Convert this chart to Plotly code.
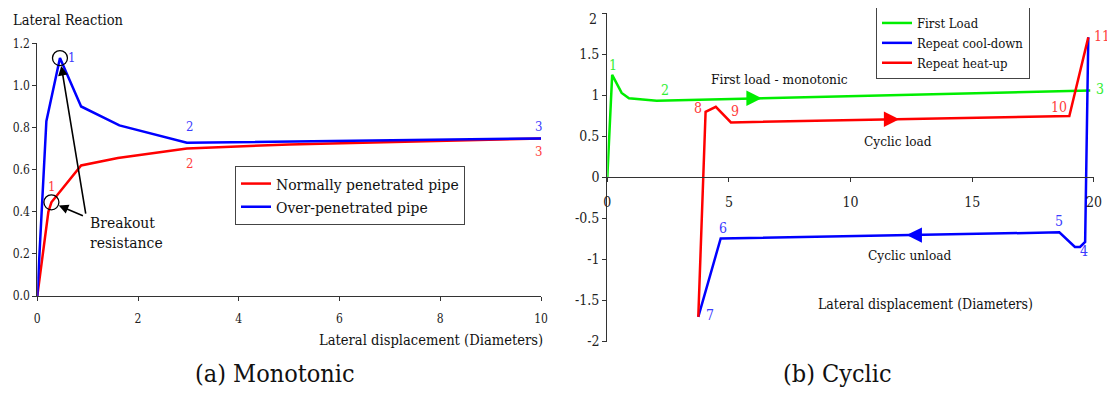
import numpy as np
import plotly.graph_objects as go

# ---------------- data: (a) Monotonic ----------------
mono_red_x = [0, 0.22, 0.28, 0.87, 1.6, 2.97, 5.0, 10]
mono_red_y = [0, 0.40, 0.445, 0.62, 0.655, 0.70, 0.72, 0.748]
mono_blue_x = [0, 0.18, 0.45, 0.87, 1.63, 2.97, 10]
mono_blue_y = [0, 0.83, 1.13, 0.90, 0.81, 0.728, 0.748]
mono_red_labels = {2: "1", 5: "2", 7: "3"}
mono_blue_labels = {2: "1", 5: "2", 6: "3"}
mono_xticks = [0, 2, 4, 6, 8, 10]
mono_yticks = [0.0, 0.2, 0.4, 0.6, 0.8, 1.0, 1.2]

# ---------------- data: (b) Cyclic ----------------
first_x = [0, 0.2, 0.59, 0.89, 2.03, 19.85]
first_y = [0, 1.25, 1.03, 0.965, 0.935, 1.06]
cool_x = [19.77, 19.64, 19.43, 19.22, 18.58, 4.66, 3.74]
cool_y = [1.707, -0.787, -0.848, -0.848, -0.67, -0.744, -1.70]
heat_x = [3.74, 4.04, 4.46, 5.08, 18.99, 19.77]
heat_y = [-1.70, 0.80, 0.86, 0.67, 0.748, 1.707]
first_labels = {1: "1", 4: "2", 5: "3"}
cool_labels = {1: "4", 4: "5", 5: "6", 6: "7"}
heat_labels = {1: "8", 3: "9", 4: "10", 5: "11"}
cyc_xticks = [0, 5, 10, 15, 20]
cyc_yticks = [-2, -1.5, -1, -0.5, 0, 0.5, 1, 1.5, 2]
cyc_yticktext = ["-2", "-1.5", "-1", "-0.5", "0", "0.5", "1", "1.5", "2"]
arrow_first_x = 6.35
arrow_heat_x = 12.0
arrow_cool_x = 12.3

FONT = "DejaVu Serif Condensed, DejaVu Serif, serif"
RED, BLUE, GREEN = "#ff0000", "#0000ff", "#00ee00"
LRED, LBLUE, LGREEN = "#ff3b3b", "#3b3bff", "#33ee33"
AX = "#333333"

# page offset (browser body margin) and figure size
OX, OY = 8, 8
W, H = 1115 - OX, 400 - 2 * OY


def fx(px):
    return (px - OX) / W


def fy(py):
    return 1 - (py - OY) / H


fig = go.Figure()

# (a) traces
fig.add_trace(go.Scatter(x=mono_red_x, y=mono_red_y, mode="lines", name="Normally penetrated pipe",
                         line=dict(color=RED, width=2.5), xaxis="x", yaxis="y", legend="legend"))
fig.add_trace(go.Scatter(x=mono_blue_x, y=mono_blue_y, mode="lines", name="Over-penetrated pipe",
                         line=dict(color=BLUE, width=2.5), xaxis="x", yaxis="y", legend="legend"))
fig.add_trace(go.Scatter(x=[mono_red_x[2], mono_blue_x[2]], y=[mono_red_y[2], mono_blue_y[2]],
                         mode="markers", showlegend=False,
                         marker=dict(symbol="circle-open", size=15, color="black", line=dict(width=1.3)),
                         xaxis="x", yaxis="y"))

# (b) traces
fig.add_trace(go.Scatter(x=first_x, y=first_y, mode="lines", name="First Load",
                         line=dict(color=GREEN, width=2.5), xaxis="x2", yaxis="y2", legend="legend2"))
fig.add_trace(go.Scatter(x=cool_x, y=cool_y, mode="lines", name="Repeat cool-down",
                         line=dict(color=BLUE, width=2.5), xaxis="x2", yaxis="y2", legend="legend2"))
fig.add_trace(go.Scatter(x=heat_x, y=heat_y, mode="lines", name="Repeat heat-up",
                         line=dict(color=RED, width=2.5), xaxis="x2", yaxis="y2", legend="legend2"))

ann = []


def lab(xs, ys, idx, txt, color, xr, yr, dx, dy, size):
    ann.append(dict(x=xs[idx], y=ys[idx], xref=xr, yref=yr, text=txt, showarrow=False,
                    xshift=dx, yshift=dy, font=dict(family=FONT, size=size, color=color)))


# (a) point labels
off_red = {2: (0, 16), 5: (3, -15), 7: (-3, -13)}
off_blue = {2: (12, 1), 5: (3, 16), 6: (-3, 12)}
for i, t in mono_red_labels.items():
    lab(mono_red_x, mono_red_y, i, t, LRED, "x", "y", *off_red[i], 13)
for i, t in mono_blue_labels.items():
    lab(mono_blue_x, mono_blue_y, i, t, LBLUE, "x", "y", *off_blue[i], 13)

# (b) point labels
off_first = {1: (1, 10), 4: (8, 11), 5: (10, 1)}
off_cool = {1: (-1, -9), 4: (0, 11), 5: (2, 10), 6: (12, 2)}
off_heat = {1: (-8, 4), 3: (4, 11), 4: (-10, 9), 5: (14, 1)}
for i, t in first_labels.items():
    lab(first_x, first_y, i, t, LGREEN, "x2", "y2", *off_first[i], 14)
for i, t in cool_labels.items():
    lab(cool_x, cool_y, i, t, LBLUE, "x2", "y2", *off_cool[i], 14)
for i, t in heat_labels.items():
    lab(heat_x, heat_y, i, t, LRED, "x2", "y2", *off_heat[i], 14)


# direction arrows on (b) lines
def dir_arrow(xs, ys, xa, color, direction):
    order = np.argsort(xs)
    xs_s = np.array(xs)[order]
    ys_s = np.array(ys)[order]
    ya = float(np.interp(xa, xs_s, ys_s))
    ann.append(dict(x=xa, y=ya, xref="x2", yref="y2", ax=xa - 0.6 * direction, ay=ya,
                    axref="x2", ayref="y2", text="", showarrow=True, arrowhead=2,
                    arrowsize=1.4, arrowwidth=2.2, arrowcolor=color))


dir_arrow(first_x[4:], first_y[4:], arrow_first_x, GREEN, 1)
dir_arrow(heat_x[3:5], heat_y[3:5], arrow_heat_x, RED, 1)
dir_arrow(cool_x[4:6], cool_y[4:6], arrow_cool_x, BLUE, -1)

# breakout arrows (a)
for px, py, ax_, ay_ in [(mono_red_x[2], mono_red_y[2], 33, 14), (mono_blue_x[2], mono_blue_y[2], 26, 157)]:
    ann.append(dict(x=px, y=py, xref="x", yref="y", ax=ax_, ay=ay_, text="", showarrow=True,
                    arrowhead=2, arrowsize=1.2, arrowwidth=1.6, arrowcolor="black", standoff=8))

# top y tick label of panel (b), kept inside the page
ann.append(dict(x=0, y=cyc_yticks[-1], xref="x2", yref="y2", text=cyc_yticktext[-1], showarrow=False,
                xanchor="right", yanchor="top", xshift=-8, yshift=4,
                font=dict(family=FONT, size=14, color="#222")))


# text annotations
def txt(px, py, t, size, xa="left"):
    ann.append(dict(x=fx(px), y=fy(py), xref="paper", yref="paper", text=t, showarrow=False,
                    xanchor=xa, yanchor="middle", align="left",
                    font=dict(family=FONT, size=size, color="#111")))


txt(88, 233, "Breakout<br>resistance", 15.5)
txt(11, 20, "Lateral Reaction", 14.5)
txt(545, 339, "Lateral displacement (Diameters)", 14.6, xa="right")
txt(779, 79, "First load - monotonic", 13.6, xa="center")
txt(898, 141, "Cyclic load", 13.5, xa="center")
txt(909, 255, "Cyclic unload", 13.5, xa="center")
txt(925, 304, "Lateral displacement (Diameters)", 14, xa="center")
txt(275, 373, "(a) Monotonic", 25, xa="center")
txt(837, 373, "(b) Cyclic", 25, xa="center")

axis_common = dict(showline=True, linecolor=AX, linewidth=1.2, ticks="outside", ticklen=4,
                   tickcolor=AX, showgrid=False, zeroline=False, automargin=False,
                   ticklabeloverflow="allow")

fig.update_layout(
    width=W, height=H, margin=dict(l=0, r=0, t=0, b=0, pad=0, autoexpand=False),
    paper_bgcolor="white", plot_bgcolor="white",
    font=dict(family=FONT, color="#222"),
    xaxis=dict(domain=[fx(37.3), fx(541)], range=[0, 10], tickvals=mono_xticks,
               tickfont=dict(family=FONT, size=12), anchor="y", ticklabelstandoff=7, **axis_common),
    yaxis=dict(domain=[fy(296), fy(43.3)], range=[0, 1.2], tickvals=mono_yticks,
               tickformat=".1f", tickfont=dict(family=FONT, size=12), anchor="x", **axis_common),
    xaxis2=dict(domain=[fx(607.3), fx(1093.9)], range=[0, 20], tickvals=cyc_xticks,
                tickfont=dict(family=FONT, size=14), anchor="free", position=fy(177.3),
                ticklabelstandoff=8, **axis_common),
    yaxis2=dict(domain=[fy(341.5), fy(13.3)], range=[-2, 2], tickvals=cyc_yticks,
                ticktext=cyc_yticktext[:-1] + [""], tickfont=dict(family=FONT, size=14),
                anchor="x2", **axis_common),
    legend=dict(x=fx(235), y=fy(166), xanchor="left", yanchor="top", bgcolor="white",
                bordercolor="#444", borderwidth=1, font=dict(family=FONT, size=15.5, color="#111"),
                tracegroupgap=0, itemwidth=30),
    legend2=dict(x=fx(876), y=fy(7), xanchor="left", yanchor="top", bgcolor="white",
                 bordercolor="#444", borderwidth=1, font=dict(family=FONT, size=13, color="#111"),
                 tracegroupgap=0, itemwidth=30),
    annotations=ann,
    showlegend=True,
)

fig.write_html("out.html")
